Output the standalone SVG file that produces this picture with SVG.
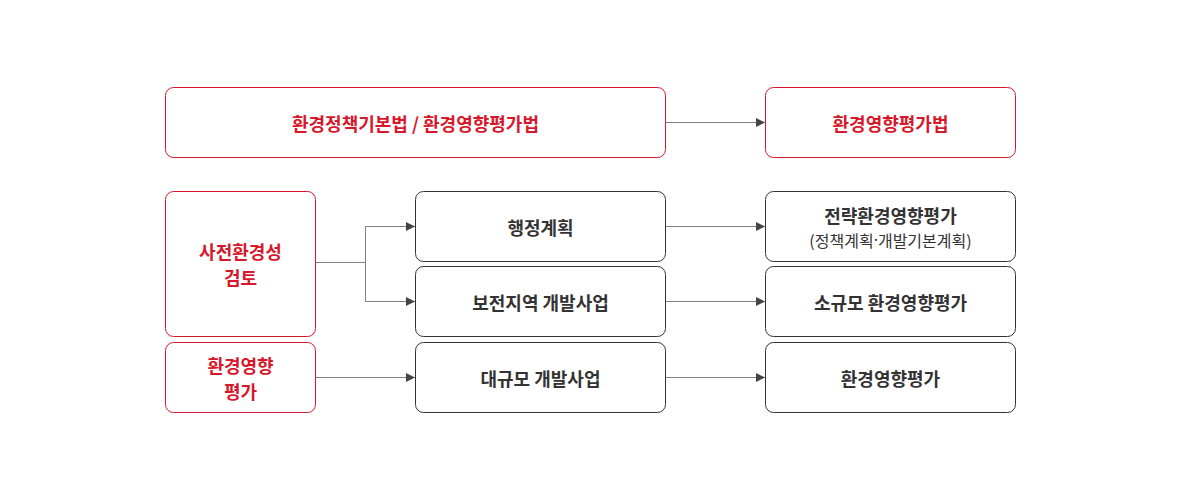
<svg xmlns="http://www.w3.org/2000/svg" width="1181" height="501" viewBox="0 0 1181 501">
<defs>
<style>
.red rect{fill:#fff;stroke:#d7172b;stroke-width:1}
.dark rect{fill:#fff;stroke:#333;stroke-width:1}
text{font-family:"Noto Sans CJK KR","Noto Sans",sans-serif;font-size:18px;font-weight:700;text-anchor:middle;dominant-baseline:central}
.red text{fill:#d7172b}
.dark text{fill:#333}
.dark text.sub{font-size:16px;font-weight:400}
.dot{font-family:"Noto Sans",sans-serif}
.conn path{fill:none;stroke:#808080;stroke-width:1}
</style>
<marker id="arr" viewBox="0 0 10 10" refX="10" refY="5" markerWidth="9" markerHeight="9" markerUnits="userSpaceOnUse" orient="auto">
<path d="M0,0 L10,5 L0,10 z" fill="#444"/>
</marker>
</defs>
<rect width="1181" height="501" fill="#fff"/>
<g id="n-law" class="red"><rect x="165.5" y="87.5" width="500" height="70" rx="8"/><text x="415.5" y="122.5">환경정책기본법 / 환경영향평가법</text></g>
<g id="n-eialaw" class="red"><rect x="765.5" y="87.5" width="250" height="70" rx="8"/><text x="890.5" y="122.5">환경영향평가법</text></g>
<g id="n-pre" class="red"><rect x="165.5" y="191.5" width="150" height="145" rx="8"/><text x="240.5" y="251">사전환경성</text><text x="240.5" y="277">검토</text></g>
<g id="n-eia" class="red"><rect x="165.5" y="342.5" width="150" height="70" rx="8"/><text x="240.5" y="365">환경영향</text><text x="240.5" y="391">평가</text></g>
<g id="n-plan" class="dark"><rect x="415.5" y="191.5" width="250" height="70" rx="8"/><text x="540.5" y="226.5">행정계획</text></g>
<g id="n-cons" class="dark"><rect x="415.5" y="266.5" width="250" height="70" rx="8"/><text x="540.5" y="301.5">보전지역 개발사업</text></g>
<g id="n-large" class="dark"><rect x="415.5" y="342.5" width="250" height="70" rx="8"/><text x="540.5" y="377.5">대규모 개발사업</text></g>
<g id="n-sea" class="dark"><rect x="765.5" y="191.5" width="250" height="70" rx="8"/><text x="890.5" y="215">전략환경영향평가</text><text class="sub" x="890.5" y="240">(정책계획<tspan class="dot">·</tspan>개발기본계획)</text></g>
<g id="n-small" class="dark"><rect x="765.5" y="266.5" width="250" height="70" rx="8"/><text x="890.5" y="301.5">소규모 환경영향평가</text></g>
<g id="n-eia2" class="dark"><rect x="765.5" y="342.5" width="250" height="70" rx="8"/><text x="890.5" y="377.5">환경영향평가</text></g>
<g id="connectors" class="conn">
<path d="M665.5,122.5 H765" marker-end="url(#arr)"/>
<path d="M315.5,262.5 H365.5 V226.5 H415" marker-end="url(#arr)"/>
<path d="M365.5,262.5 V301.5 H415" marker-end="url(#arr)"/>
<path d="M315.5,377.5 H415" marker-end="url(#arr)"/>
<path d="M665.5,226.5 H765" marker-end="url(#arr)"/>
<path d="M665.5,301.5 H765" marker-end="url(#arr)"/>
<path d="M665.5,377.5 H765" marker-end="url(#arr)"/>
</g>
</svg>
